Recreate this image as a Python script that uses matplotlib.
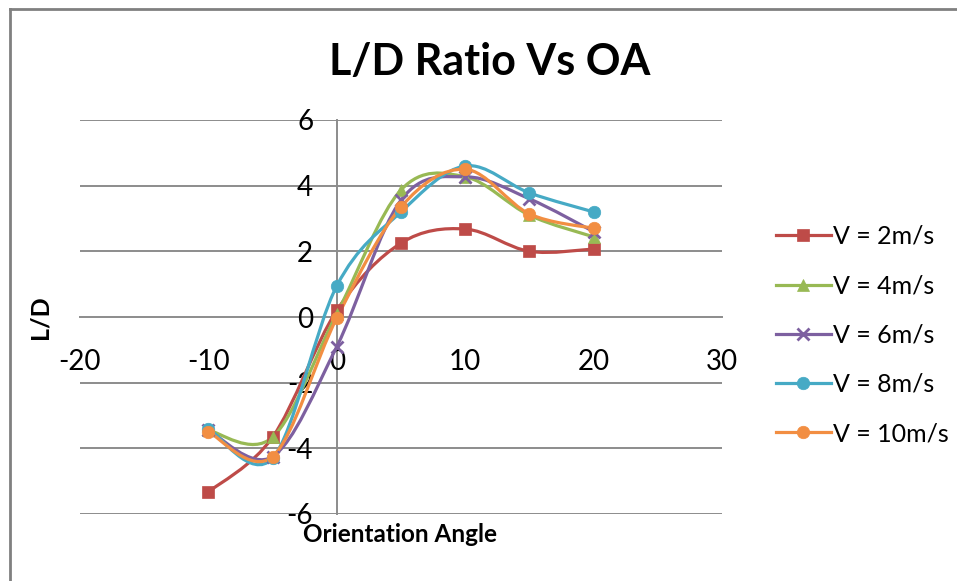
import matplotlib
matplotlib.use('Agg')
from matplotlib import pyplot as plt
from matplotlib.path import Path
from matplotlib.patches import PathPatch
from matplotlib.lines import Line2D
import numpy as np

# orientation angle
angle = [-10, -5, 0, 5, 10, 15, 20]

# L/D values
ld_v2 = [-5.33, -3.66, 0.2, 2.25, 2.68, 2.0, 2.07]
ld_v4 = [-3.45, -3.66, 0.1, 3.87, 4.27, 3.1, 2.44]
ld_v6 = [-3.45, -4.25, -0.9, 3.56, 4.27, 3.6, 2.6]
ld_v8 = [-3.4, -4.3, 0.95, 3.2, 4.6, 3.78, 3.2]
ld_v10 = [-3.5, -4.25, -0.03, 3.35, 4.5, 3.14, 2.7]

labels = ['V = 2m/s', 'V = 4m/s', 'V = 6m/s', 'V = 8m/s', 'V = 10m/s']
colors = ['#BE4B48', '#98B954', '#7D60A0', '#46AAC5', '#F28E42']
markers = ['s', '^', 'x', 'o', 'o']

plt.rcParams['font.family'] = ['Lato', 'DejaVu Sans']
plt.rcParams['axes.unicode_minus'] = False


def smooth_path(x, y):
    # Excel-style smoothed line: cubic bezier through the points
    p = np.column_stack([x, y]).astype(float)
    n = len(p)
    verts = [p[0]]
    codes = [Path.MOVETO]
    for i in range(n - 1):
        p0 = p[i - 1] if i > 0 else p[i]
        p3 = p[i + 2] if i + 2 < n else p[i + 1]
        c1 = p[i] + (p[i + 1] - p0) / 6.0
        c2 = p[i + 1] - (p3 - p[i]) / 6.0
        verts += [c1, c2, p[i + 1]]
        codes += [Path.CURVE4] * 3
    return Path(verts, codes)


fig = plt.figure(figsize=(9.57, 5.81), dpi=100)
ax = fig.add_axes([80 / 957, (581 - 514) / 581, 642 / 957, 394 / 581])

series = [ld_v2, ld_v4, ld_v6, ld_v8, ld_v10]
handles = []
for vals, c, m, lab in zip(series, colors, markers, labels):
    ax.add_patch(PathPatch(smooth_path(angle, vals), facecolor='none',
                           edgecolor=c, lw=2.3, zorder=3))
    mew = 2 if m == 'x' else 0.5
    ax.plot(angle, vals, linestyle='none', marker=m, color=c, markersize=9,
            markeredgewidth=mew, zorder=4)
    handles.append(Line2D([0], [0], color=c, lw=2.3, marker=m, markersize=9,
                          markeredgewidth=mew, label=lab))

ax.set_xlim(-20, 30)
ax.set_ylim(-6, 6)
ax.set_xticks([-20, -10, 0, 10, 20, 30])
ax.set_yticks([-6, -4, -2, 0, 2, 4, 6])

for y in [-6, -4, -2, 2, 4, 6]:
    ax.axhline(y, color='#8C8C8C', lw=1.4, zorder=1)

ax.spines['top'].set_visible(False)
ax.spines['right'].set_visible(False)
ax.spines['left'].set_position(('data', 0))
ax.spines['bottom'].set_position(('data', 0))
for s in ['left', 'bottom']:
    ax.spines[s].set_color('#8C8C8C')
    ax.spines[s].set_linewidth(1.4)
    ax.spines[s].set_zorder(1)

ax.tick_params(axis='x', length=0, pad=23, labelsize=20)
ax.tick_params(axis='y', length=0, pad=17, labelsize=20)

fig.text(490 / 957, 1 - 62 / 581, 'L/D Ratio Vs OA', fontsize=31,
         fontweight='bold', ha='center', va='center')
fig.text(40 / 957, 1 - 317 / 581, 'L/D', rotation=90, fontsize=18,
         fontweight='bold', ha='center', va='center')
fig.text(400 / 957, 1 - 535 / 581, 'Orientation Angle', fontsize=17.5,
         fontweight='bold', ha='center', va='center')

fig.legend(handles=handles, loc='center left', bbox_to_anchor=(753 / 957, 1 - 335 / 581),
           frameon=False, fontsize=18, handlelength=2.2, labelspacing=1.05,
           handletextpad=0.1)

# chart area border
fig.add_artist(Line2D([10 / 957, 10 / 957], [0, 1 - 9 / 581], color='#808080', lw=2,
                      transform=fig.transFigure))
fig.add_artist(Line2D([10 / 957, 1], [1 - 9 / 581, 1 - 9 / 581], color='#808080', lw=2,
                      transform=fig.transFigure))

plt.savefig('out.png', dpi=100)
